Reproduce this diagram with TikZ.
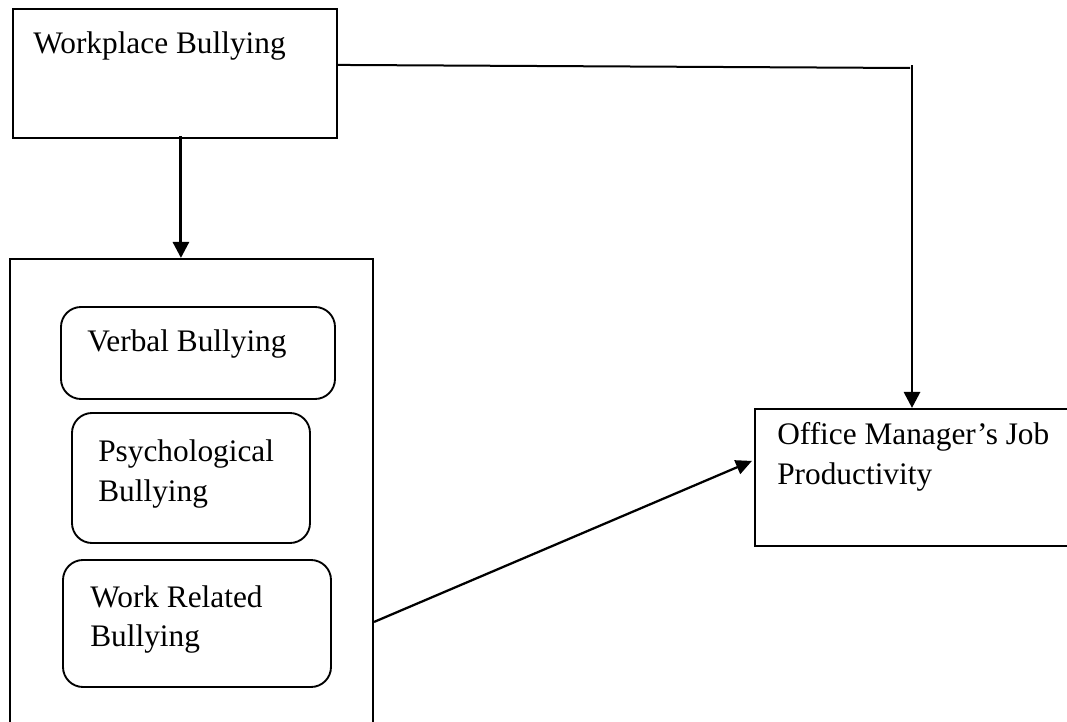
\documentclass[tikz,border=0pt]{standalone}
\usepackage{fontspec}
\setmainfont{Liberation Serif}
\usetikzlibrary{arrows.meta,fit,calc}
\begin{document}
\begin{tikzpicture}[x=0.75pt,y=-0.75pt,
  box/.style={draw,line width=1.6pt,inner sep=0pt},
  rbox/.style={draw,line width=1.4pt,inner sep=0pt,rounded corners=15pt},
  lbl/.style={anchor=base west,inner sep=0pt,font=\fontsize{23.5}{30}\selectfont},
  conn/.style={line width=1.5pt},
  arr/.style={line width=2.2pt,-{Triangle[length=12pt,width=12pt]}},
  darr/.style={line width=1.7pt,-{Triangle[length=12pt,width=11pt]}}]
\useasboundingbox (0,0) rectangle (1067,721);
\clip (0,0) rectangle (1067,721);
\fill[white] (0,0) rectangle (1067,721);
% boxes
\node[box, fit={(13,9) (337,138)}] (wb) {};
\node[box, fit={(10,259) (373,770)}] (grp) {};
\node[rbox, fit={(61,307) (335,399)}] (vb) {};
\node[rbox, fit={(72,413) (310,543)}] (pb) {};
\node[rbox, fit={(63,560) (331,687)}] (wr) {};
\node[box, fit={(755,409) (1090,546)}] (om) {};
% labels
\node[lbl] (t1) at (33,53) {Workplace Bullying};
\node[lbl] (t2) at (87,351) {Verbal Bullying};
\node[lbl] (t3a) at (98,461) {Psychological};
\node[lbl] (t3b) at (98,501) {Bullying};
\node[lbl] (t4a) at (90,607) {Work Related};
\node[lbl] (t4b) at (90,646) {Bullying};
\node[lbl] (t5a) at (777,444) {Office Manager’s Job};
\node[lbl] (t5b) at (777,484) {Productivity};
% connectors
\coordinate (wbS) at ($(wb.south west)+(169,-3)$);
\draw[arr] (wbS) -- (wbS |- grp.north);
\coordinate (wbE) at ($(wb.north east)+(0,57)$);
\coordinate (turn) at (910,68);
\draw[conn] (wbE) -- (turn);
\coordinate (turnTop) at (912,65);
\draw[arr] (turnTop) -- (turnTop |- om.north);
\coordinate (grpE) at ($(grp.north east)+(0,364)$);
\coordinate (omW) at ($(om.north west)+(-2,53)$);
\draw[darr] (grpE) -- (omW);
\end{tikzpicture}
\end{document}
